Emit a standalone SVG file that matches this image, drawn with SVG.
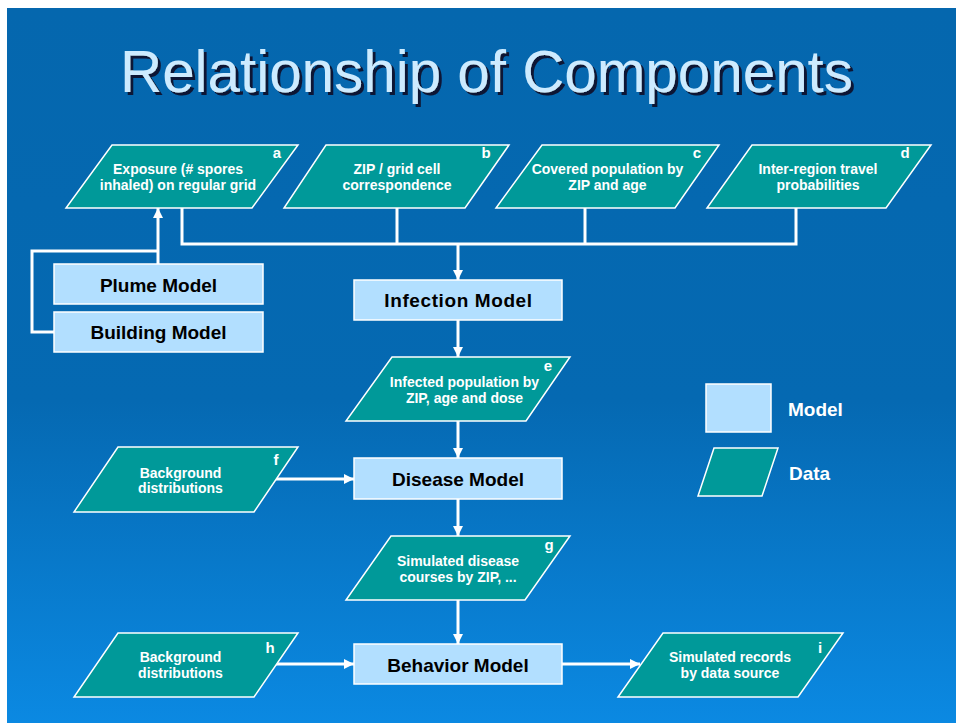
<svg xmlns="http://www.w3.org/2000/svg" width="956" height="723" viewBox="0 0 956 723">
  <defs>
    <linearGradient id="bg" x1="0" y1="0" x2="0" y2="1">
      <stop offset="0" stop-color="#0567AE"/>
      <stop offset="0.55" stop-color="#0569B2"/>
      <stop offset="1" stop-color="#0B89E2"/>
    </linearGradient>
    <filter id="shadow" x="-5%" y="-20%" width="110%" height="140%">
      <feDropShadow dx="3" dy="3" stdDeviation="0" flood-color="#0B1836" flood-opacity="1"/>
    </filter>
    <marker id="arrow" markerUnits="userSpaceOnUse" markerWidth="10" markerHeight="10" refX="10" refY="5" orient="auto">
      <path d="M0,0 L10,5 L0,10 z" fill="#FFFFFF"/>
    </marker>
    <style>
      .data { fill: #009999; stroke: #FFFFFF; stroke-width: 1.5; }
      .model { fill: #B2DFFF; stroke: #FFFFFF; stroke-width: 1.5; }
      .dt { font-family: "Liberation Sans", Arial, sans-serif; font-weight: bold; font-size: 14px; fill: #FFFFFF; text-anchor: middle; }
      .lbl { font-family: "Liberation Sans", Arial, sans-serif; font-weight: bold; font-size: 15px; fill: #FFFFFF; text-anchor: middle; }
      .mt { font-family: "Liberation Sans", Arial, sans-serif; font-weight: bold; font-size: 19px; fill: #000000; text-anchor: middle; }
      .leg { font-family: "Liberation Sans", Arial, sans-serif; font-weight: bold; font-size: 19px; fill: #FFFFFF; }
      .wire { fill: none; stroke: #FFFFFF; stroke-width: 3; }
      .title { font-family: "Liberation Sans", Arial, sans-serif; font-size: 59px; text-anchor: middle; fill: #CDEBFF; filter: url(#shadow); }
    </style>
  </defs>

  <!-- slide background -->
  <rect x="0" y="0" width="956" height="723" fill="#FFFFFF"/>
  <rect x="7" y="8" width="949" height="715" fill="url(#bg)"/>

  <!-- title -->
  <text class="title" x="486.5" y="92" textLength="733" lengthAdjust="spacingAndGlyphs">Relationship of Components</text>

  <!-- connectors -->
  <g id="connectors">
    <path class="wire" d="M182,208 V244 H796 V208"/>
    <path class="wire" d="M397,208 V244"/>
    <path class="wire" d="M585,208 V244"/>
    <path class="wire" d="M458,244 V280" marker-end="url(#arrow)"/>
    <path class="wire" d="M158,264 V208" marker-end="url(#arrow)"/>
    <path class="wire" d="M54,332 H32 V251 H158"/>
    <path class="wire" d="M458,320 V357" marker-end="url(#arrow)"/>
    <path class="wire" d="M458,421 V458" marker-end="url(#arrow)"/>
    <path class="wire" d="M276,479 H354" marker-end="url(#arrow)"/>
    <path class="wire" d="M458,499 V536" marker-end="url(#arrow)"/>
    <path class="wire" d="M458,600 V644" marker-end="url(#arrow)"/>
    <path class="wire" d="M276,664 H354" marker-end="url(#arrow)"/>
    <path class="wire" d="M562,664 H640" marker-end="url(#arrow)"/>
  </g>

  <!-- data: a -->
  <g id="data-a">
    <polygon class="data" points="112,145 298,145 252,208 66,208"/>
    <text class="dt" x="178" y="174">Exposure (# spores</text>
    <text class="dt" x="178" y="190">inhaled) on regular grid</text>
    <text class="lbl" x="277" y="158">a</text>
  </g>

  <!-- data: b -->
  <g id="data-b">
    <polygon class="data" points="326,145 509,145 465,208 284,208"/>
    <text class="dt" x="397" y="174">ZIP / grid cell</text>
    <text class="dt" x="397" y="190">correspondence</text>
    <text class="lbl" x="486" y="158">b</text>
  </g>

  <!-- data: c -->
  <g id="data-c">
    <polygon class="data" points="542,145 719,145 675,208 496,208"/>
    <text class="dt" x="607.5" y="174">Covered population by</text>
    <text class="dt" x="607.5" y="190">ZIP and age</text>
    <text class="lbl" x="697" y="158">c</text>
  </g>

  <!-- data: d -->
  <g id="data-d">
    <polygon class="data" points="752,145 931,145 886,208 707,208"/>
    <text class="dt" x="818" y="174">Inter-region travel</text>
    <text class="dt" x="818" y="190">probabilities</text>
    <text class="lbl" x="905" y="158">d</text>
  </g>

  <!-- models -->
  <g id="plume-model">
    <rect class="model" x="54" y="264" width="209" height="40"/>
    <text class="mt" x="158.5" y="291.5">Plume Model</text>
  </g>
  <g id="building-model">
    <rect class="model" x="54" y="312" width="209" height="40"/>
    <text class="mt" x="158.5" y="339">Building Model</text>
  </g>
  <g id="infection-model">
    <rect class="model" x="354" y="280" width="208" height="40"/>
    <text class="mt" x="458.5" y="307" letter-spacing="0.6">Infection Model</text>
  </g>

  <!-- data: e -->
  <g id="data-e">
    <polygon class="data" points="392,357 570,357 526,421 346,421"/>
    <text class="dt" x="464.5" y="387">Infected population by</text>
    <text class="dt" x="464.5" y="403">ZIP, age and dose</text>
    <text class="lbl" x="548" y="371">e</text>
  </g>

  <g id="disease-model">
    <rect class="model" x="354" y="458" width="208" height="41"/>
    <text class="mt" x="458" y="486">Disease Model</text>
  </g>

  <!-- data: f -->
  <g id="data-f">
    <polygon class="data" points="118,447 298,447 254,512 74,512"/>
    <text class="dt" x="180.5" y="478">Background</text>
    <text class="dt" x="180.5" y="493">distributions</text>
    <text class="lbl" x="276" y="464.5">f</text>
  </g>

  <!-- data: g -->
  <g id="data-g">
    <polygon class="data" points="391,536 570,536 525,600 346,600"/>
    <text class="dt" x="458" y="566">Simulated disease</text>
    <text class="dt" x="458" y="582">courses by ZIP, ...</text>
    <text class="lbl" x="549" y="550">g</text>
  </g>

  <g id="behavior-model">
    <rect class="model" x="354" y="644" width="208" height="40"/>
    <text class="mt" x="458" y="671.5">Behavior Model</text>
  </g>

  <!-- data: h -->
  <g id="data-h">
    <polygon class="data" points="118,633 298,633 254,697 74,697"/>
    <text class="dt" x="180.5" y="662">Background</text>
    <text class="dt" x="180.5" y="678">distributions</text>
    <text class="lbl" x="270" y="652.5">h</text>
  </g>

  <!-- data: i -->
  <g id="data-i">
    <polygon class="data" points="663,633 843,633 798,697 618,697"/>
    <text class="dt" x="730" y="662">Simulated records</text>
    <text class="dt" x="730" y="678">by data source</text>
    <text class="lbl" x="820" y="652.5">i</text>
  </g>

  <!-- legend -->
  <g id="legend-model">
    <rect class="model" x="706" y="384" width="65" height="48"/>
    <text class="leg" x="788" y="416">Model</text>
  </g>
  <g id="legend-data">
    <polygon class="data" points="714,448 778,448 762,496 698,496"/>
    <text class="leg" x="789" y="479.5">Data</text>
  </g>
</svg>
